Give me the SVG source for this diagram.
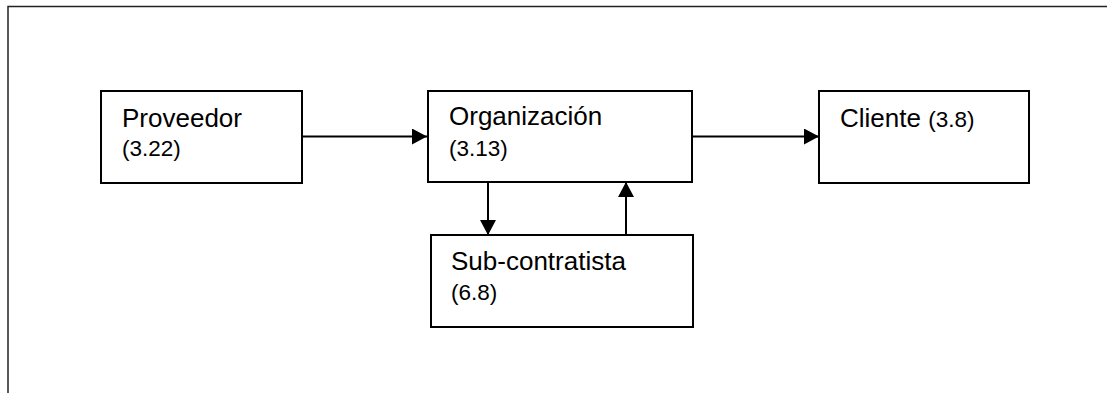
<svg xmlns="http://www.w3.org/2000/svg" width="1107" height="393" viewBox="0 0 1107 393">
<style>
.box{fill:#fff;stroke:#000;stroke-width:2}
.frame{fill:none;stroke:#222;stroke-width:1.5}
.edge{fill:none;stroke:#000;stroke-width:2}
.t{font-family:"Liberation Sans",Arial,sans-serif;font-size:26px;fill:#000}
.n{font-family:"Liberation Sans",Arial,sans-serif;font-size:22.5px;fill:#000}
</style>
<defs>
<marker id="ah" viewBox="0 0 15 16" refX="15" refY="8" markerWidth="15" markerHeight="16" markerUnits="userSpaceOnUse" orient="auto">
<path d="M0,0 L15,8 L0,16 Z" fill="#000"/>
</marker>
</defs>
<rect width="1107" height="393" fill="#fff"/>
<path class="frame" d="M8,393 V6.5 H1107"/>
<g id="connectors">
<line class="edge" x1="302" y1="136.5" x2="427" y2="136.5" marker-end="url(#ah)"/>
<line class="edge" x1="692" y1="136.5" x2="819" y2="136.5" marker-end="url(#ah)"/>
<line class="edge" x1="488" y1="182" x2="488" y2="235" marker-end="url(#ah)"/>
<line class="edge" x1="626" y1="235" x2="626" y2="182" marker-end="url(#ah)"/>
</g>
<g id="proveedor">
<rect class="box" x="101" y="91" width="201" height="92"/>
<text class="t" x="122" y="127">Proveedor</text>
<text class="n" x="122" y="156">(3.22)</text>
</g>
<g id="organizacion">
<rect class="box" x="428" y="91" width="264" height="91"/>
<text class="t" x="449" y="125">Organización</text>
<text class="n" x="449" y="156">(3.13)</text>
</g>
<g id="cliente">
<rect class="box" x="819" y="91" width="210" height="92"/>
<text x="840" y="127"><tspan class="t">Cliente </tspan><tspan class="n">(3.8)</tspan></text>
</g>
<g id="subcontratista">
<rect class="box" x="431" y="235" width="262" height="92"/>
<text class="t" x="451" y="270">Sub-contratista</text>
<text class="n" x="451" y="300">(6.8)</text>
</g>
</svg>
